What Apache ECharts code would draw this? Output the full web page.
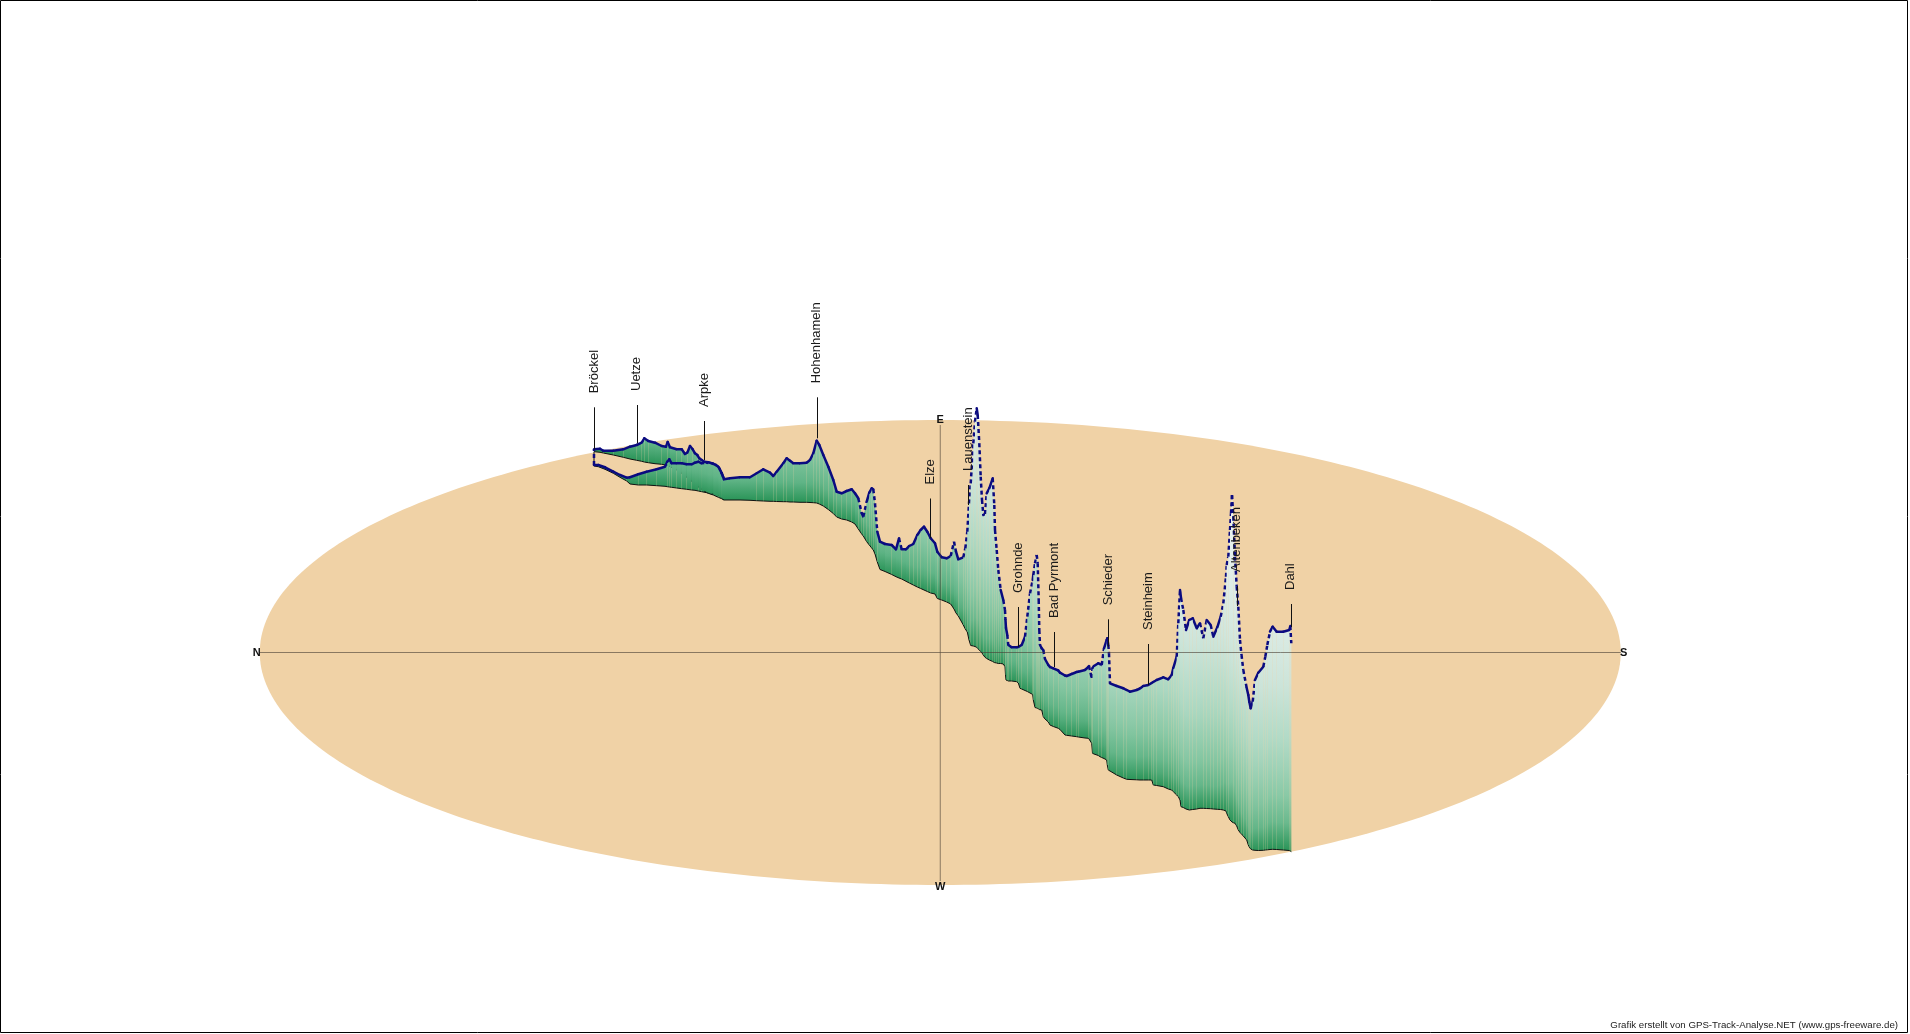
<!DOCTYPE html>
<html><head><meta charset="utf-8">
<script src="https://cdn.jsdelivr.net/npm/echarts@6/dist/echarts.min.js"></script>
<style>html,body{margin:0;padding:0;background:#fff;}#c{width:1910px;height:1034px;}</style>
</head><body><div id="c"></div>
<script>
// ---- data (in the chart's plane coordinates) ----
// ground ellipse: centre x, centre y, radius along N-S, radius along E-W
const groundEllipse = [940.25, 652.5, 680.5, 232.5];
const compassLetters = ['N', 'S', 'E', 'W'];

// track in travel order: x along N-S, ground position (E-W depth), top of elevation column
const trackX = [724,721.7,719.3,716,711.7,706.7,701.7,698.3,695,691.7,686.7,681.7,676.7,671.7,669.3,667.3,665,656.7,646.7,638.3,630,626.7,620,613.3,605,598.3,594,
594,600,603.3,613.3,623.3,630,636.7,641.7,644.3,648.3,655,661.7,666,667.7,670,676.7,681.7,685,687.3,690,692.7,695,697.3,699.3,701.7,704.3,708.3,713.3,718.3,721.7,724,
730,740,750,756.7,763.3,770,773.3,776.7,783.3,786.7,790,793.3,800,806.7,810,813.3,816.7,819.3,823.3,828.3,833.3,836.7,841.7,846.7,851.7,855,858.3,861.7,863.3,866.7,
869.3,871.7,873.3,875,877.3,880,885,891.7,896,899,901.7,906,909.3,913.3,917.3,920.7,924,927.3,930.7,935,937.3,941.7,946.7,950.7,954,956,958.3,963.3,965.3,967.3,
969,970.7,973.3,975,976.7,977.7,979.3,980.7,982,983.3,985,986.7,989.3,992.7,994.3,995,996.7,998.3,1000.7,1003.3,1005,1005.5,1006,1007.3,1008.3,1011.7,1016.7,1018.3,1020,1021.7,
1025,1027.3,1030,1032.7,1033.3,1035,1036.7,1037.7,1038.7,1039.3,1040,1041.7,1043.3,1045,1048.3,1050,1053.3,1058.3,1060,1065,1066.7,1071.7,1076.7,1078.3,1085,1088.3,1089,1091.7,1092.5,1094,
1098.3,1100,1101.7,1104,1106.7,1107.3,1108.3,1109,1110,1116.7,1123.3,1126.7,1130,1136.7,1140,1143.3,1148.3,1151.7,1153.3,1156.7,1163.3,1168.3,1171.7,1173.3,1176.7,1178.3,1180,1181,1183.3,1186,
1189.3,1192.7,1196.7,1200,1203.3,1206.7,1210.7,1213.3,1217.3,1220.7,1223.3,1226,1226.7,1228.3,1230,1231,1232,1233.3,1235,1236.7,1238.3,1240,1241.5,1243.3,1246.7,1248.3,1249.3,1250.7,1252.7,1255,
1258.3,1263.3,1265.3,1267.3,1270,1272.7,1276.7,1283.3,1289.3,1290.3,1291.3];
const trackTop = [479.3,473.3,468.3,465,463.3,462.7,463.3,461.7,462.7,464.3,464.3,463.3,463.3,463.3,459.3,461.7,466.7,469.3,471.7,474.3,477.3,477.7,475,471.7,467.3,465,465,
449.3,448.7,450.7,450.7,449.3,446.7,445,442.7,438.3,441,442.7,446,446.7,442,447.3,449.3,449.3,454,452.7,446,449.3,453.3,455,458.3,460,461.7,462.3,463.7,466.7,473.3,479.3,
478.3,477.3,477.3,473.3,469.3,472.7,476,471.7,463.3,458.3,460.7,463.3,463.3,462.7,460,453.3,440.7,445,455,466.7,480,491.7,493.3,491,489.3,493.3,498.3,513.3,516.7,501.7,
492.7,488.3,489.3,503.3,531.7,541.7,544,545,549.3,538.3,549.3,549.3,546,544,535,530,526.7,531.7,538.3,543.3,551.7,557.3,558.3,556,541.7,551.7,559.3,557.3,548.3,531.7,
503.3,483.3,443.3,421.7,408.3,415,443.3,476.7,500,515,514,493.3,488.3,478.3,505,530,550,570,590,600,610,620,628,635,645,647.3,647.3,647,646,645,
636.7,616.7,593.3,580,575,563.3,555,563.3,600,630,645,648.3,650,659,665,667,668.3,670.5,672.7,675.5,676,674,672,671.7,670,667,666,678,668,666,
663.3,664,665,648.3,640,638.3,645,653.3,683.3,686,688.3,690,691.7,690,688.5,686,685,683,682,680,677.3,679.3,675,668,656.7,623.3,590,598,610,630,
620,618.3,628.3,623.3,638.3,620,625,636.7,627.3,616.7,603.3,576.7,565,556.7,530,513.3,495,516.7,556.7,586.7,606.7,640,655,670,688,695,701.7,708.3,701.7,680,
672.7,666.7,656.7,645,631.7,626.7,631.7,631.7,630,626,643.3];
const trackGround = [500,498.3,496,494.7,494,492.7,491.7,491,490.3,490,489.3,488.7,488,487.3,487,486.7,486.3,485.7,485,485,484,481,477.3,473.3,469.3,466.7,466,
451.7,452.3,453,455,457.3,459,460.3,461.3,462,462.7,463.7,464.3,465,465.3,466.7,470,473.3,476,477.7,480,482,484,486,487.7,489.3,491.3,493.3,495,497.3,498.7,500,
500,500,500.3,500.7,501,501.3,501.3,501.5,501.7,501.7,502,502,502.3,502.3,502.5,502.7,503,504,506,509.5,513.5,517,519,520,522,524,529,534,536,541.7,
545,548,550,554,562,569.5,571.5,574.5,576.7,578,579,581.3,583,585,587,588.5,590,591.5,593,594,598.5,600,602,604,609,613,616,625,629,632,
640,645.5,646,646.5,647.3,648.5,650,651.5,653,655,657.3,658.5,660,661.5,662.5,662.7,663,663.5,663.5,664,666.7,675,680,680.5,681,681,681.7,683,688.3,689,
690.5,691.5,693,694.5,700,707.5,708,708.5,709,709.5,709.7,710,716.7,719,722,725,726.5,728.3,729.5,735,735.3,736,736.7,737,738,738.3,739,743.3,753.3,754,
755.5,756.7,757.5,758.5,760,765,770,770.5,771,775,778,779.3,779.5,779.8,780,780,780,780,785,785.5,786.7,789,790,791.7,795,796.7,800,806.7,807.5,809,
810,809.5,809,808.3,808.3,808.5,808.7,809,809.3,809.5,810,811,813.3,816.7,820,821,822,822.7,823.3,826,830,832.5,834,836,840,845,847,849,850,850.3,
850.5,850.3,850,849.8,849.5,849.3,849.5,850,850.5,851,851.7];

// places along the track: name, x, top and bottom of the marker stem
const placeNames = ['Bröckel','Uetze','Arpke','Hohenhameln','Elze','Lauenstein','Grohnde','Bad Pyrmont','Schieder','Steinheim','Altenbeken','Dahl'];
const placeX = [594.3,636.7,704.3,816.7,930,968.3,1018.3,1054,1108.3,1148.3,1236.7,1290.5];
const placeStemTop = [407.3,405,421,397.3,498.5,485,607,632,619.3,644,586,604];
const placeStemBottom = [449.3,443.3,460,438.3,538,505,647,667,646.7,685,606,627];

const creditText = 'Grafik erstellt von GPS-Track-Analyse.NET (www.gps-freeware.de)';

// ---- styling helpers ----
const RAMP = [[0,[42,148,88]],[20,[96,180,134]],[50,[134,199,163]],[100,[172,216,194]],[170,[206,229,219]],[260,[228,239,235]],[340,[241,246,244]]];
function ramp(h){
  if (h <= RAMP[0][0]) return 'rgb(' + RAMP[0][1].join(',') + ')';
  for (let i = 1; i < RAMP.length; i++) {
    if (h <= RAMP[i][0]) {
      const a = RAMP[i-1], b = RAMP[i], t = (h - a[0]) / (b[0] - a[0]);
      const c = a[1].map((v, k) => Math.round(v + (b[1][k] - v) * t));
      return 'rgb(' + c.join(',') + ')';
    }
  }
  return 'rgb(' + RAMP[RAMP.length-1][1].join(',') + ')';
}

// segments between consecutive track points, painted far-to-near
const segments = [];
for (let i = 0; i < trackX.length - 1; i++) {
  segments.push([trackX[i], trackGround[i], trackTop[i], trackX[i+1], trackGround[i+1], trackTop[i+1]]);
}
segments.sort((a, b) => (a[1] + a[4]) - (b[1] + b[4]));

const places = placeNames.map((n, i) => [placeX[i], placeStemTop[i], placeStemBottom[i], n]);

const chart = echarts.init(document.getElementById('c'), null, {renderer: 'canvas'});
const option = {
  animation: false,
  backgroundColor: '#ffffff',
  grid: {left: 0, right: 0, top: 0, bottom: 0},
  xAxis: {type: 'value', min: 0, max: 1910, show: false},
  yAxis: {type: 'value', min: 0, max: 1034, inverse: true, show: false},
  graphic: [
    {type: 'rect', shape: {x: 0.5, y: 0.5, width: 1907, height: 1032}, style: {fill: 'none', stroke: '#000', lineWidth: 1}, z: 100},
    {type: 'text', right: 12, bottom: 4, style: {text: creditText, font: '9.7px "Liberation Sans", Arial, sans-serif', fill: '#222'}, z: 100}
  ],
  series: [
    {
      type: 'custom', z: 1, silent: true,
      data: [groundEllipse],
      renderItem: function (params, api) {
        const c = api.coord([api.value(0), api.value(1)]);
        const s = api.size([api.value(2), api.value(3)]);
        const rx = Math.abs(s[0]), ry = Math.abs(s[1]);
        const pts = [];
        for (let k = 0; k < 360; k++) {
          const a = k * Math.PI / 180;
          pts.push([c[0] + rx * Math.cos(a), c[1] + ry * Math.sin(a)]);
        }
        return {type: 'polygon', shape: {points: pts}, style: {fill: '#F0D2A6', stroke: null}};
      }
    },
    {
      type: 'custom', z: 2, silent: true,
      data: segments,
      renderItem: function (params, api) {
        const pg1 = api.coord([api.value(0), api.value(1)]);
        const pt1 = api.coord([api.value(0), api.value(2)]);
        const pg2 = api.coord([api.value(3), api.value(4)]);
        const pt2 = api.coord([api.value(3), api.value(5)]);
        const bottom = Math.max(pg1[1], pg2[1]);
        const top = Math.min(pt1[1], pt2[1]);
        const hb = bottom - top;
        let fill;
        if (hb < 1) {
          fill = ramp(0);
        } else {
          const stops = [];
          for (let k = 0; k <= 8; k++) stops.push({offset: k / 8, color: ramp(hb * k / 8)});
          fill = {type: 'linear', x: 0, y: bottom, x2: 0, y2: top, global: true, colorStops: stops};
        }
        const dx = Math.abs(pt2[0] - pt1[0]), dy = Math.abs(pt2[1] - pt1[1]);
        const steep = dy > 4 * dx && dy > 8;
        const topStyle = steep
          ? {stroke: '#0b0b80', lineWidth: 2.5, lineDash: [4, 3], lineCap: 'butt'}
          : {stroke: '#0b0b80', lineWidth: 2.5, lineCap: 'round'};
        return {type: 'group', children: [
          {type: 'polygon', shape: {points: [pg1, pt1, pt2, pg2]}, style: {fill: fill, stroke: null}},
          {type: 'line', shape: {x1: pg1[0], y1: pg1[1], x2: pg2[0], y2: pg2[1]}, style: {stroke: '#111', lineWidth: 1}},
          {type: 'line', shape: {x1: pt1[0], y1: pt1[1], x2: pt2[0], y2: pt2[1]}, style: topStyle}
        ]};
      }
    },
    {
      type: 'custom', z: 3, silent: true,
      data: [groundEllipse],
      renderItem: function (params, api) {
        const c = api.coord([api.value(0), api.value(1)]);
        const s = api.size([api.value(2), api.value(3)]);
        const rx = Math.abs(s[0]), ry = Math.abs(s[1]);
        const st = {stroke: 'rgba(70,60,50,0.6)', lineWidth: 1};
        const font = 'bold 11px "Liberation Sans", Arial, sans-serif';
        const pos = [[c[0] - rx - 3, c[1]], [c[0] + rx + 3, c[1]], [c[0], c[1] - ry], [c[0], c[1] + ry + 2]];
        const children = [
          {type: 'line', shape: {x1: c[0] - rx, y1: c[1], x2: c[0] + rx, y2: c[1]}, style: st},
          {type: 'line', shape: {x1: c[0], y1: c[1] - ry + 5, x2: c[0], y2: c[1] + ry - 4}, style: st}
        ];
        compassLetters.forEach((L, i) => children.push({type: 'text', x: pos[i][0], y: pos[i][1],
          style: {text: L, align: 'center', verticalAlign: 'middle', font: font, fill: '#111'}}));
        return {type: 'group', children: children};
      }
    },
    {
      type: 'custom', z: 4, silent: true,
      data: places,
      renderItem: function (params, api) {
        const p1 = api.coord([api.value(0), api.value(1)]);
        const p2 = api.coord([api.value(0), api.value(2)]);
        const name = places[params.dataIndex][3];
        return {type: 'group', children: [
          {type: 'line', shape: {x1: Math.round(p1[0]) + 0.5, y1: p1[1], x2: Math.round(p1[0]) + 0.5, y2: p2[1]}, style: {stroke: '#111', lineWidth: 1}},
          {type: 'text', x: p1[0], y: p1[1] - 14, rotation: Math.PI / 2,
            style: {text: name, align: 'left', verticalAlign: 'middle', font: '13px "Liberation Sans", Arial, sans-serif', fill: '#1a1a1a'}}
        ]};
      }
    }
  ]
};
chart.setOption(option);
</script>
</body></html>
